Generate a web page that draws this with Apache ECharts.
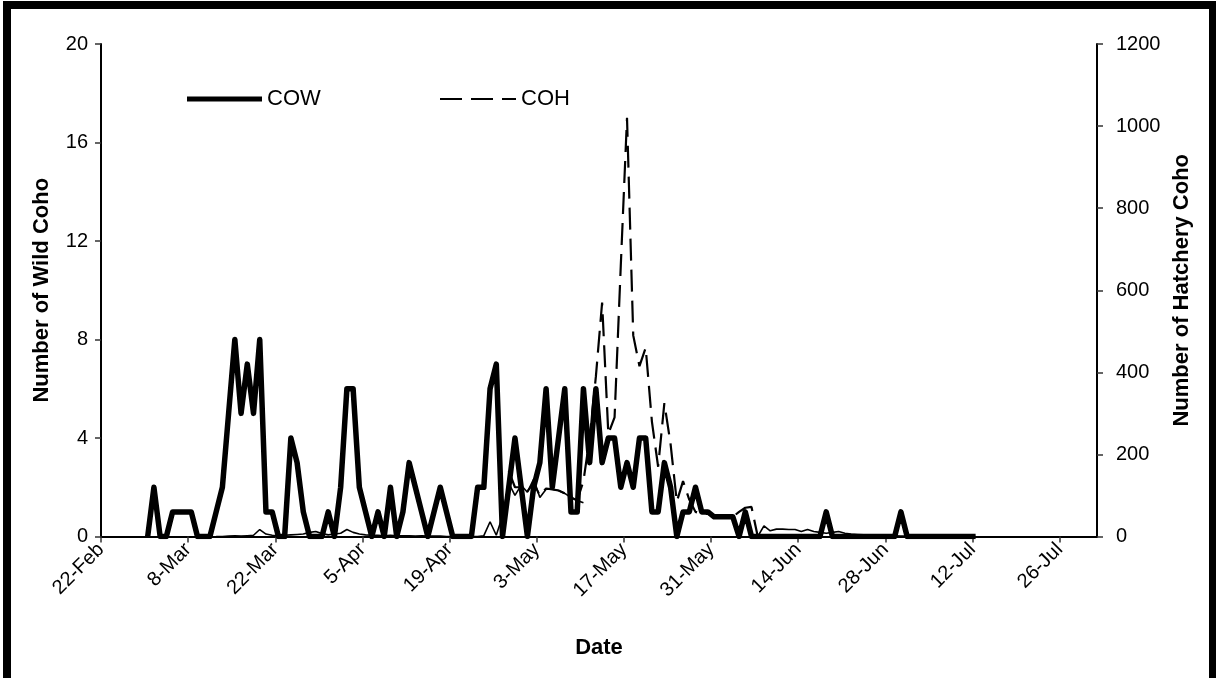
<!DOCTYPE html>
<html><head><meta charset="utf-8">
<script src="https://cdn.jsdelivr.net/npm/echarts@6/dist/echarts.min.js"></script>
<style>html,body{margin:0;padding:0;background:#fff}#c{width:1216px;height:678px}</style>
</head><body><div id="c"></div>
<script>
// ---- axis definitions ----
const xTickLabels = ['22-Feb','8-Mar','22-Mar','5-Apr','19-Apr','3-May','17-May','31-May','14-Jun','28-Jun','12-Jul','26-Jul'];
const xTickStepDays = 14;          // days between labelled ticks
const xSpanDays = 160;             // 22-Feb .. 1-Aug
const leftTicks = [0, 4, 8, 12, 16, 20];
const rightTicks = [0, 200, 400, 600, 800, 1000, 1200];

// ---- data: daily counts, day index counted from 22-Feb ----
const cowStartDay = 7;
const cowValues = [
  0,2,0,0,1,1,1,1,0,0,            // 7-16
  0,1,2,5,8,5,7,5,8,1,            // 17-26
  1,0,0,4,3,1,0,0,0,1,            // 27-36
  0,2,6,6,2,1,0,1,0,2,            // 37-46
  0,1,3,2,1,0,1,2,1,0,            // 47-56
  0,0,0,2,2,6,7,0,2,4,            // 57-66
  2,0,2,3,6,2,4,6,1,1,            // 67-76
  6,3,6,3,4,4,2,3,2,4,            // 77-86
  4,1,1,3,2,0,1,1,2,1,            // 87-96
  1,0.8,0.8,0.8,0.8,0,1,0,0,0,    // 97-106
  0,0,0,0,0,0,0,0,0,1,            // 107-116
  0,0,0,0,0,0,0,0,0,0,            // 117-126
  0,1,0,0,0,0,0,0,0,0,            // 127-136
  0,0,0,0                         // 137-140
];
const cohStartDay = 65;
const cohValues = [
  160,120,120,110,130,100,117,115,112,105,  // 65-74
  95,88,135,240,390,570,250,290,660,1020,   // 75-84
  490,415,460,280,170,325,225,85,135,90,    // 85-94
  60,55,55,52,50,50,48,60,70,72,            // 95-104
  0                                          // 105
];
const otherEarlyStartDay = 18;
const otherEarlyValues = [
  0,0,1,2,1,2,3,17,6,3,        // 18-27
  2,3,4,5,6,10,12,7,4,6,       // 28-37
  8,17,10,6,4,3,3,2,3,2,       // 38-47
  2,2,1,2,1,1,1,0,0,0,         // 48-57
  0,0,0,2,36,3,50,130,100,125, // 58-67
  108,140,95,115,115,112,105,95,88,82 // 68-77
];
const otherLateStartDay = 105;
const otherLateValues = [
  0,26,14,18,18,17,17,12,17,12, // 105-114
  10,8,10,12,8,6,5,4,4,3,       // 115-124
  3,2,2,1,1,0,0,0,0,0,          // 125-134
  0,0,0,0,0,0                   // 135-140
];

// ---- build ----
function toPoints(start, vals) { return vals.map((v, i) => [start + i + 0.5, v]); }
const FONT = 'Liberation Sans, Arial, sans-serif';
const TICK_FONT = 20, TITLE_FONT = 22;

const chart = echarts.init(document.getElementById('c'), null, {renderer: 'canvas'});
const tickStyle = {show: true, inside: false, length: 6, lineStyle: {color: '#333', width: 1.5}};
const option = {
  animation: false,
  backgroundColor: '#fff',
  textStyle: {fontFamily: FONT, color: '#000'},
  grid: {left: 101, right: 119, top: 44, bottom: 141.5, containLabel: false},
  legend: [
    {data: ['COW'], left: 187, top: 88, padding: 0, itemWidth: 75, itemHeight: 5, icon: 'rect',
     symbolKeepAspect: false,
     textStyle: {fontFamily: FONT, fontSize: TITLE_FONT, color: '#000'}},
    {data: ['COH'], left: 440, top: 88, padding: 0, itemWidth: 76, itemHeight: 2,
     icon: 'path://M0 0h22v2H0z M31 0h22v2H31z M62 0h14v2H62z', symbolKeepAspect: false,
     textStyle: {fontFamily: FONT, fontSize: TITLE_FONT, color: '#000'}}
  ],
  xAxis: {
    type: 'value', min: 0, max: xSpanDays, interval: xTickStepDays,
    name: 'Date', nameLocation: 'middle', nameGap: 100,
    nameTextStyle: {fontFamily: FONT, fontSize: TITLE_FONT, fontWeight: 'bold', color: '#000'},
    axisLine: {lineStyle: {color: '#000', width: 2}},
    axisTick: tickStyle,
    splitLine: {show: false},
    axisLabel: {
      rotate: 45, margin: 10, fontSize: TICK_FONT, color: '#000', fontFamily: FONT, showMaxLabel: false,
      formatter: v => (v % xTickStepDays === 0 && xTickLabels[v / xTickStepDays]) ? xTickLabels[v / xTickStepDays] : ''
    }
  },
  yAxis: [
    {
      type: 'value', min: leftTicks[0], max: leftTicks[leftTicks.length - 1], interval: leftTicks[1] - leftTicks[0],
      position: 'left',
      name: 'Number of Wild Coho', nameLocation: 'middle', nameRotate: 90, nameGap: 48,
      nameTextStyle: {fontFamily: FONT, fontSize: TITLE_FONT, fontWeight: 'bold', color: '#000'},
      axisLine: {show: true, lineStyle: {color: '#000', width: 2}},
      axisTick: tickStyle,
      splitLine: {show: false},
      axisLabel: {margin: 13, fontSize: TICK_FONT, color: '#000', fontFamily: FONT, formatter: v => String(v)}
    },
    {
      type: 'value', min: rightTicks[0], max: rightTicks[rightTicks.length - 1], interval: rightTicks[1] - rightTicks[0],
      position: 'right',
      name: 'Number of Hatchery Coho', nameLocation: 'middle', nameRotate: 90, nameGap: 72,
      nameTextStyle: {fontFamily: FONT, fontSize: TITLE_FONT, fontWeight: 'bold', color: '#000'},
      axisLine: {show: true, lineStyle: {color: '#000', width: 2}},
      axisTick: tickStyle,
      splitLine: {show: false},
      axisLabel: {margin: 19, fontSize: TICK_FONT, color: '#000', fontFamily: FONT, formatter: v => String(v)}
    }
  ],
  graphic: [{
    type: 'rect', left: 3, top: 1, z: 100,
    shape: {width: 1206, height: 720},
    style: {fill: 'none', stroke: '#000', lineWidth: 8}
  }],
  series: [
    {name: 'COW', type: 'line', yAxisIndex: 0, symbol: 'none', data: toPoints(cowStartDay, cowValues),
     lineStyle: {color: '#000', width: 5.5, join: 'round'}, itemStyle: {color: '#000'}, z: 2},
    {name: 'other-early', type: 'line', yAxisIndex: 1, symbol: 'none', data: toPoints(otherEarlyStartDay, otherEarlyValues),
     lineStyle: {color: '#000', width: 1.6}, itemStyle: {color: '#000'}, z: 3},
    {name: 'other-late', type: 'line', yAxisIndex: 1, symbol: 'none', data: toPoints(otherLateStartDay, otherLateValues),
     lineStyle: {color: '#000', width: 1.6}, itemStyle: {color: '#000'}, z: 3},
    {name: 'COH', type: 'line', yAxisIndex: 1, symbol: 'none', data: toPoints(cohStartDay, cohValues),
     lineStyle: {color: '#000', width: 2.2, type: [22, 9]}, itemStyle: {color: '#000'}, z: 4}
  ]
};
chart.setOption(option);
</script>
</body></html>
